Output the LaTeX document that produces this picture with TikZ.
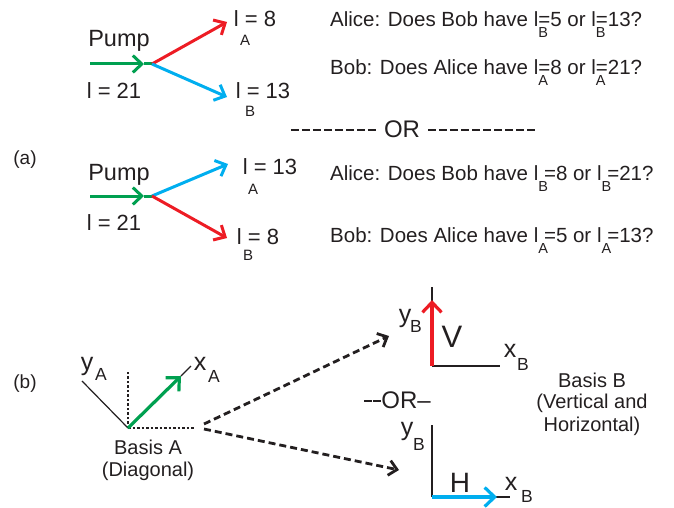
\documentclass[tikz,border=0pt]{standalone}
\usepackage{fontspec}
\setmainfont{Liberation Sans}
\usetikzlibrary{arrows.meta}
\definecolor{cgreen}{RGB}{0,160,80}
\definecolor{cred}{RGB}{237,28,36}
\definecolor{cblue}{RGB}{0,174,239}
\definecolor{ink}{RGB}{35,31,32}
\newcommand\fs[1]{\fontsize{#1}{#1}\selectfont}
\newcommand\subl[1]{l\rlap{\raisebox{-11pt}{\fs{14.5}#1}}}
\newcommand\hy{\makebox[11pt]{\rule[6.5pt]{8pt}{2pt}}}
\newcommand\hyn{\makebox[9pt]{\rule[6.5pt]{7.5pt}{2pt}}}
\tikzset{
  txt/.style={inner sep=0pt, text=ink},
  big/.style={txt, font=\fs{22}},
  mid/.style={txt, font=\fs{20.5}},
  sml/.style={txt, font=\fs{20}},
  subs/.style={txt, font=\fs{15}},
  axl/.style={txt, font=\fs{25}, anchor=base},
  axs/.style={txt, font=\fs{17.5}, anchor=base},
  beam/.style={line width=3pt, -{Straight Barb[length=9pt,width=17pt]}},
  axis/.style={line width=1.2pt, ink},
  dotaxis/.style={line width=1.2pt, ink, dash pattern=on 2.5pt off 2pt},
  dasharrow/.style={line width=2.8pt, ink, dash pattern=on 7pt off 4pt, -{Straight Barb[length=8pt,width=15pt]}},
}
\begin{document}
\begin{tikzpicture}[x=1pt,y=-1pt]
\useasboundingbox (0,0) rectangle (674,508);
% ---------- panel (a), top ----------
\node[big, font=\fs{23.5}] (pump1) at (119,41) {Pump};
\coordinate (s1) at (90,64);
\coordinate (m1) at (144,64);
\coordinate (j1) at (152,64);
\coordinate (r1) at (227,22);
\coordinate (b1) at (227,97);
\draw[cgreen, line width=3pt] (m1) -- (j1);
\draw[beam, cgreen] (s1) -- (m1);
\draw[beam, cred] (j1) -- (r1);
\draw[beam, cblue] (j1) -- (b1);
\node[big] (p21a) at (114,91) {l = 21};
\node[big] (la8) at (255,19) {l = 8};
\node[subs] (la8s) at (245,40) {A};
\node[big] (lb13) at (263,91) {l = 13};
\node[subs] (lb13s) at (250,111) {B};
\node[mid, anchor=base west] (q1) at (330,27) {Alice: Does Bob have \subl{B}=5 or \subl{B}=13?};
\node[mid, anchor=base west] (q2) at (330,75) {Bob: Does Alice have \subl{A}=8 or \subl{A}=21?};
\node[txt, font=\fs{24}] (or1) at (413,129) {\hy\hy\hy\hy\hy\hy\hy\hy\ OR \hy\hy\hy\hy\hy\hy\hy\hy\hy\hy};
\node[txt, font=\fs{19}] (la) at (25,160) {(a)};
% ---------- panel (a), bottom ----------
\node[big, font=\fs{23.5}] (pump2) at (119,175) {Pump};
\coordinate (s2) at (90,196);
\coordinate (m2) at (144,196);
\coordinate (j2) at (152,196);
\coordinate (b2) at (228,164);
\coordinate (r2) at (227,238);
\draw[cgreen, line width=3pt] (m2) -- (j2);
\draw[beam, cgreen] (s2) -- (m2);
\draw[beam, cblue] (j2) -- (b2);
\draw[beam, cred] (j2) -- (r2);
\node[big] (p21b) at (114,223) {l = 21};
\node[big] (la13) at (270,167) {l = 13};
\node[subs] (la13s) at (253,189) {A};
\node[big] (lb8) at (258,237) {l = 8};
\node[subs] (lb8s) at (248,255) {B};
\node[mid, anchor=base west] (q3) at (330,180) {Alice: Does Bob have \subl{B}\ =8 or \subl{B}\ =21?};
\node[mid, anchor=base west] (q4) at (330,242) {Bob: Does Alice have \subl{A}\ =5 or \subl{A}\ =13?};
% ---------- panel (b) ----------
\node[txt, font=\fs{19}] (lb) at (25,384) {(b)};
\coordinate (oA) at (128,428);
\coordinate (yA) at (82,381);
\coordinate (vA) at (128,372);
\coordinate (hA) at (194,428);
\coordinate (gA) at (181,376);
\coordinate (xA) at (191,366);
\draw[axis] (oA) -- (yA);
\draw[dotaxis] (oA) -- (vA);
\draw[dotaxis] (oA) -- (hA);
\draw[axis] (gA) -- (xA);
\draw[line width=3.2pt, cgreen, -{Straight Barb[length=10pt,width=19pt]}] (oA) -- (gA);
\node[axl] (yAl) at (87,370) {y};
\node[axs] (yAs) at (101,380) {A};
\node[axl] (xAl) at (200,370) {x};
\node[axs] (xAs) at (214,382) {A};
\node[sml] (basA) at (148,447) {Basis A};
\node[sml] (diag) at (148,471) {(Diagonal)};
% dashed arrows
\coordinate (dS1) at (204,424);
\coordinate (dS2) at (204,429);
\coordinate (dE1) at (389,336);
\coordinate (dE2) at (399,470);
\draw[dasharrow] (dS1) -- (dE1);
\draw[dasharrow] (dS2) -- (dE2);
% basis B, vertical
\coordinate (oB) at (432,366);
\coordinate (yB) at (432,287);
\coordinate (xB) at (500,366);
\coordinate (vB) at (432,300);
\draw[axis] (oB) -- (yB);
\draw[axis] (oB) -- (xB);
\draw[line width=3.2pt, cred, -{Straight Barb[length=10pt,width=19pt]}] (oB) -- (vB);
\node[axl] (yBl) at (405,322) {y};
\node[axs] (yBs) at (416,332) {B};
\node[axl, font=\fs{31}] (Vl) at (452,347) {V};
\node[axl] (xBl) at (510,357) {x};
\node[axs] (xBs) at (523,370) {B};
\node[txt, font=\fs{24}] (or2) at (397,400) {\hyn\hyn OR--};
% basis B, horizontal
\coordinate (oC) at (432,497);
\coordinate (yC) at (432,425);
\coordinate (xC) at (510,497);
\coordinate (hC) at (497,497);
\draw[axis] (oC) -- (yC);
\draw[axis] (oC) -- (xC);
\draw[line width=3.2pt, cblue, -{Straight Barb[length=10pt,width=19pt]}] (oC) -- (hC);
\node[axl] (yCl) at (407,435) {y};
\node[axs] (yCs) at (419,450) {B};
\node[axl, font=\fs{28}] (Hl) at (460,492) {H};
\node[axl] (xCl) at (511,490) {x};
\node[axs] (xCs) at (527,502) {B};
\node[sml] (basB) at (592,380) {Basis B};
\node[sml] (vert) at (592,403) {(Vertical and};
\node[sml] (hor) at (592,426) {Horizontal)};
\end{tikzpicture}
\end{document}
